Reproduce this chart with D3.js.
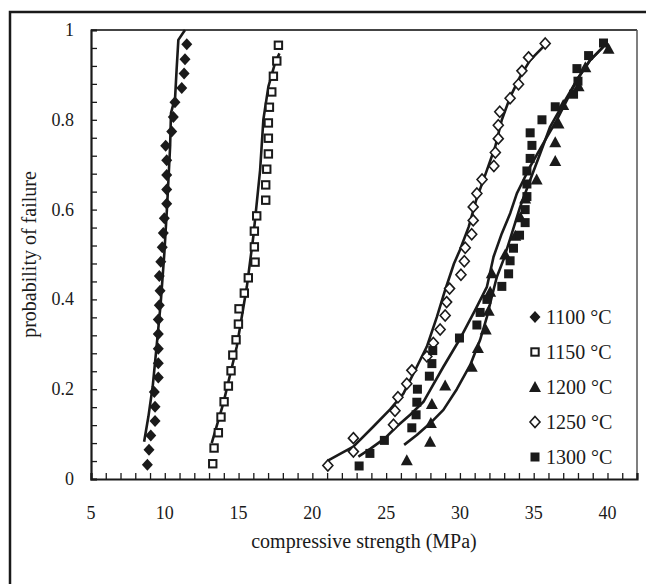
<!DOCTYPE html>
<html><head><meta charset="utf-8">
<script src="https://cdn.jsdelivr.net/npm/d3@7"></script>
<style>body{margin:0;background:#fff}svg{display:block}text{font-family:"Liberation Serif","Times New Roman",serif}</style>
</head><body>
<svg id="c" width="646" height="584"></svg>
<script>
// ---- data ----
const categories = ["1100 °C","1150 °C","1200 °C","1250 °C","1300 °C"];
const xTicks = [5,10,15,20,25,30,35,40];
const yTicks = [0,0.2,0.4,0.6,0.8,1];
const yTickLabels = ["0","0.2","0.4","0.6","0.8","1"];

const s1100 = [8.82,8.93,9.05,9.34,9.34,9.29,9.56,9.56,9.56,9.56,9.56,9.63,9.68,9.63,9.73,9.83,9.90,9.97,10.13,10.13,10.13,10.13,10.06,10.47,10.58,10.69,11.15,11.31,11.37,11.49];
const p1100 = [0.032,0.065,0.097,0.129,0.161,0.194,0.226,0.258,0.290,0.323,0.355,0.387,0.419,0.452,0.484,0.516,0.548,0.581,0.613,0.645,0.677,0.710,0.742,0.774,0.806,0.839,0.871,0.903,0.935,0.968];

const s1150 = [13.25,13.34,13.63,13.81,14.02,14.31,14.49,14.61,14.83,14.99,15.03,15.39,15.66,16.12,16.07,16.07,16.23,16.84,16.84,16.91,17.02,17.02,17.02,17.09,17.25,17.36,17.59,17.70];
const p1150 = [0.034,0.069,0.103,0.138,0.172,0.207,0.241,0.276,0.310,0.345,0.379,0.414,0.448,0.483,0.517,0.552,0.586,0.621,0.655,0.690,0.724,0.759,0.793,0.828,0.862,0.897,0.931,0.966];

const s1200 = [26.4,27.98,28.03,28.1,29.0,30.8,31.22,31.75,31.95,32.05,32.16,33.07,33.75,34.1,34.42,35.2,36.46,36.46,36.68,37.0,38.04,38.5,40.07];
const p1200 = [0.042,0.083,0.125,0.167,0.208,0.250,0.292,0.333,0.375,0.417,0.458,0.500,0.542,0.583,0.625,0.667,0.708,0.750,0.792,0.833,0.875,0.917,0.958];

const s1250 = [21.05,22.78,22.78,25.5,25.6,25.8,26.4,26.74,27.76,28.2,28.66,29.0,29.1,29.3,30.07,30.3,30.36,30.8,30.9,30.9,31.15,31.5,32.3,32.4,32.6,32.6,32.7,33.4,33.97,34.2,34.65,35.78];
const p1250 = [0.030,0.061,0.091,0.121,0.152,0.182,0.212,0.242,0.273,0.303,0.333,0.364,0.394,0.424,0.455,0.485,0.515,0.545,0.576,0.606,0.636,0.667,0.697,0.727,0.758,0.788,0.818,0.848,0.879,0.909,0.939,0.970];

const s1300 = [23.17,23.9,24.88,26.74,27.03,27.08,27.12,27.93,28.1,28.16,29.97,31.15,31.37,31.83,32.84,33.3,33.4,33.63,34.04,34.42,34.42,34.54,34.54,34.54,34.76,34.88,34.76,35.56,36.46,37.7,38.0,37.93,38.72,39.73];
const p1300 = [0.029,0.057,0.086,0.114,0.143,0.171,0.200,0.229,0.257,0.286,0.314,0.343,0.371,0.400,0.429,0.457,0.486,0.514,0.543,0.571,0.600,0.629,0.657,0.686,0.714,0.743,0.771,0.800,0.829,0.857,0.886,0.914,0.943,0.971];

// fitted curves: [strength, probability]
const c1100 = [[8.6,0.083],[8.89,0.139],[9.18,0.206],[9.4,0.28],[9.72,0.39],[9.97,0.503],[10.17,0.615],[10.36,0.74],[10.42,0.815],[10.7,0.85],[10.8,0.911],[10.92,0.978],[11.37,1.0]];
const c1150 = [[13.18,0.08],[13.97,0.169],[14.88,0.295],[15.56,0.428],[16.0,0.54],[16.46,0.688],[16.68,0.8],[17.02,0.874],[17.47,0.926],[17.77,0.948]];
const c1200 = [[26.22,0.076],[27.08,0.098],[27.98,0.124],[28.88,0.154],[29.79,0.2],[30.7,0.254],[31.37,0.31],[31.83,0.361],[32.16,0.406],[32.5,0.45],[32.95,0.488],[33.52,0.547],[34.08,0.606],[34.76,0.666],[35.44,0.725],[36.12,0.785],[37.02,0.837],[37.93,0.889],[38.83,0.933],[39.73,0.963]];
const c1250 = [[21.05,0.041],[21.88,0.056],[22.78,0.072],[24.14,0.117],[25.27,0.155],[26.17,0.19],[27.08,0.25],[27.76,0.295],[28.44,0.361],[29.0,0.421],[29.6,0.48],[30.0,0.51],[30.6,0.562],[31.1,0.621],[31.83,0.688],[32.39,0.74],[32.84,0.8],[33.41,0.851],[34.08,0.896],[34.76,0.933],[35.66,0.963]];
const c1300 = [[23.12,0.05],[23.92,0.067],[24.93,0.091],[25.72,0.117],[26.63,0.143],[27.53,0.172],[27.98,0.198],[28.88,0.25],[30.02,0.313],[31.03,0.376],[31.83,0.428],[32.28,0.495],[32.84,0.547],[33.41,0.592],[33.86,0.636],[34.76,0.696],[35.66,0.748],[36.57,0.8],[37.25,0.844],[37.93,0.889],[38.83,0.933],[39.73,0.963]];

const seriesStrength = [s1100,s1150,s1200,s1250,s1300];
const seriesProb = [p1100,p1150,p1200,p1250,p1300];
const seriesCurve = [c1100,c1150,c1200,c1250,c1300];
const markerKind = ["diamondFilled","squareOpen","triangleFilled","diamondOpen","squareFilled"];

// ---- layout ----
const W = 646, H = 584;
const m = {left:91, top:30, right:637, bottom:479};
const svg = d3.select("#c");
const INK = "#1a1a1a";

svg.append("rect").attr("x",10).attr("y",12).attr("width",W).attr("height",H)
  .attr("fill","none").attr("stroke",INK).attr("stroke-width",2.5);

const x = d3.scaleLinear().domain([5,42]).range([m.left,m.right]);
const y = d3.scaleLinear().domain([0,1]).range([m.bottom,m.top]);

svg.append("line").attr("x1",m.left).attr("x2",m.right).attr("y1",m.top).attr("y2",m.top)
  .attr("stroke","#444").attr("stroke-width",1.8);
svg.append("line").attr("x1",m.right).attr("x2",m.right).attr("y1",m.top).attr("y2",m.bottom)
  .attr("stroke","#555").attr("stroke-width",1.5);

const xMinor = d3.range(5,43,1);
const yMinor = d3.range(0,1.0001,0.04);
const gx = svg.append("g").attr("transform",`translate(0,${m.bottom})`)
  .call(d3.axisTop(x).tickValues(xMinor).tickSize(6).tickFormat(""));
const gy = svg.append("g").attr("transform",`translate(${m.left},0)`)
  .call(d3.axisRight(y).tickValues(yMinor).tickSize(6).tickFormat(""));
[gx,gy].forEach(g=>{
  g.selectAll(".domain").attr("stroke",INK).attr("stroke-width",2.2);
  g.selectAll(".tick line").attr("stroke",INK).attr("stroke-width",1.3);
});

svg.append("g").selectAll("text").data(xTicks).join("text")
  .attr("x",d=>x(d)).attr("y",519).attr("text-anchor","middle")
  .attr("font-size",18).attr("fill",INK).text(d=>d);
svg.append("g").selectAll("text").data(yTicks).join("text")
  .attr("x",m.left-17).attr("y",d=>y(d)+6).attr("text-anchor","end")
  .attr("font-size",18).attr("fill",INK).text((d,i)=>yTickLabels[i]);

svg.append("text").attr("x",(m.left+m.right)/2).attr("y",548).attr("text-anchor","middle")
  .attr("font-size",20).attr("fill",INK).text("compressive strength (MPa)");
svg.append("text").attr("transform",`translate(36,${(m.top+m.bottom)/2}) rotate(-90)`)
  .attr("text-anchor","middle").attr("font-size",20).attr("fill",INK)
  .text("probability of failure");

const line = d3.line().x(d=>x(d[0])).y(d=>y(d[1]));
svg.append("g").selectAll("path").data(seriesCurve).join("path")
  .attr("d",line).attr("fill","none").attr("stroke",INK).attr("stroke-width",2.6)
  .attr("stroke-linejoin","round");

function drawMarker(g,kind,cx,cy){
  if(kind==="diamondFilled"){
    g.append("path").attr("d",`M${cx},${cy-6}L${cx+5.5},${cy}L${cx},${cy+6}L${cx-5.5},${cy}Z`).attr("fill",INK);
  } else if(kind==="diamondOpen"){
    g.append("path").attr("d",`M${cx},${cy-5.5}L${cx+5},${cy}L${cx},${cy+5.5}L${cx-5},${cy}Z`)
      .attr("fill","#fff").attr("stroke",INK).attr("stroke-width",1.6);
  } else if(kind==="squareOpen"){
    g.append("rect").attr("x",cx-3.7).attr("y",cy-3.7).attr("width",7.4).attr("height",7.4)
      .attr("fill","#fff").attr("stroke",INK).attr("stroke-width",2);
  } else if(kind==="squareFilled"){
    g.append("rect").attr("x",cx-4.5).attr("y",cy-4.5).attr("width",9).attr("height",9).attr("fill",INK);
  } else if(kind==="triangleFilled"){
    g.append("path").attr("d",`M${cx},${cy-6}L${cx+6},${cy+5}L${cx-6},${cy+5}Z`).attr("fill",INK);
  }
}
const gm = svg.append("g");
seriesStrength.forEach((arr,si)=>{
  arr.forEach((v,i)=>drawMarker(gm,markerKind[si],x(v),y(seriesProb[si][i])));
});

const lg = svg.append("g");
categories.forEach((c,i)=>{
  const ly = 317 + i*35;
  drawMarker(lg,markerKind[i],535,ly);
  lg.append("text").attr("x",546).attr("y",ly+7).attr("font-size",20)
    .attr("fill",INK).text(c);
});
</script>
</body></html>
